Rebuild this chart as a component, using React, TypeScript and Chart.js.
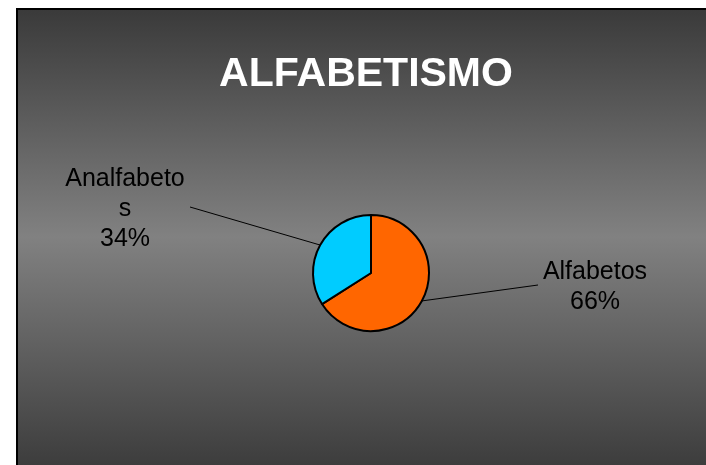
import React, { useEffect, useRef } from "react";
import { Chart, registerables } from "chart.js";

Chart.register(...registerables);

const title = "ALFABETISMO";
const categories = ["Alfabetos", "Analfabetos"];
const values = [66, 34];
const colors = ["#FF6600", "#00CCFF"];
const labelLines = [["Alfabetos", "66%"], ["Analfabeto", "s", "34%"]];
// label anchor (text centre x, first baseline y) and leader-line end
const labelPos = [
  { x: 595, y: 279, lx: 538, ly: 285 },
  { x: 125, y: 186, lx: 190, ly: 207 },
];

const bgPlugin = {
  id: "bgPlugin",
  beforeDraw(chart: any) {
    const ctx = chart.ctx;
    const W = chart.width, H = chart.height;
    ctx.save();
    ctx.fillStyle = "#ffffff";
    ctx.fillRect(0, 0, W, H);
    const g = ctx.createLinearGradient(0, 9, 0, H);
    g.addColorStop(0, "#3a3a3a");
    g.addColorStop(0.5, "#818181");
    g.addColorStop(1, "#3d3d3d");
    ctx.fillStyle = g;
    ctx.fillRect(16, 8, W - 16, H - 8);
    ctx.fillStyle = "#000000";
    ctx.fillRect(16, 8, W - 16, 2);
    ctx.fillRect(16, 8, 2, H - 8);
    ctx.restore();
  },
  afterDraw(chart: any) {
    const ctx = chart.ctx;
    ctx.save();
    ctx.fillStyle = "#ffffff";
    ctx.font = "bold 41px 'Liberation Sans', Arial, sans-serif";
    ctx.textAlign = "center";
    ctx.textBaseline = "alphabetic";
    ctx.fillText(title, 366, 86);

    const meta = chart.getDatasetMeta(0);
    meta.data.forEach((arc: any, i: number) => {
      const p = arc.getProps(["x", "y", "startAngle", "endAngle", "outerRadius"], true);
      const mid = (p.startAngle + p.endAngle) / 2;
      const sx = p.x + Math.cos(mid) * p.outerRadius;
      const sy = p.y + Math.sin(mid) * p.outerRadius;
      const lp = labelPos[i];
      ctx.strokeStyle = "#000000";
      ctx.lineWidth = 1;
      ctx.beginPath();
      ctx.moveTo(sx, sy);
      ctx.lineTo(lp.lx, lp.ly);
      ctx.stroke();
      ctx.fillStyle = "#000000";
      ctx.font = "25px 'Liberation Sans', Arial, sans-serif";
      ctx.textAlign = "center";
      labelLines[i].forEach((t, k) => {
        ctx.fillText(t, lp.x, lp.y + k * 30);
      });
    });
    ctx.restore();
  },
};

export default function App() {
  const ref = useRef<HTMLCanvasElement | null>(null);
  useEffect(() => {
    if (!ref.current) return;
    const chart = new Chart(ref.current, {
      type: "pie",
      data: {
        labels: categories,
        datasets: [
          {
            data: values,
            backgroundColor: colors,
            borderColor: "#000000",
            borderWidth: 2,
            radius: 58,
          },
        ],
      },
      options: {
        animation: false,
        responsive: false,
        layout: { padding: { left: 311, right: 275, top: 213, bottom: 132 } },
        plugins: {
          legend: { display: false },
          tooltip: { enabled: false },
          title: { display: false },
        },
      },
      plugins: [bgPlugin],
    });
    return () => chart.destroy();
  }, []);
  return (
    <div style={{ position: "fixed", left: 0, top: 0, width: 706, height: 465 }}>
      <canvas ref={ref} width={706} height={465} style={{ display: "block" }} />
    </div>
  );
}
